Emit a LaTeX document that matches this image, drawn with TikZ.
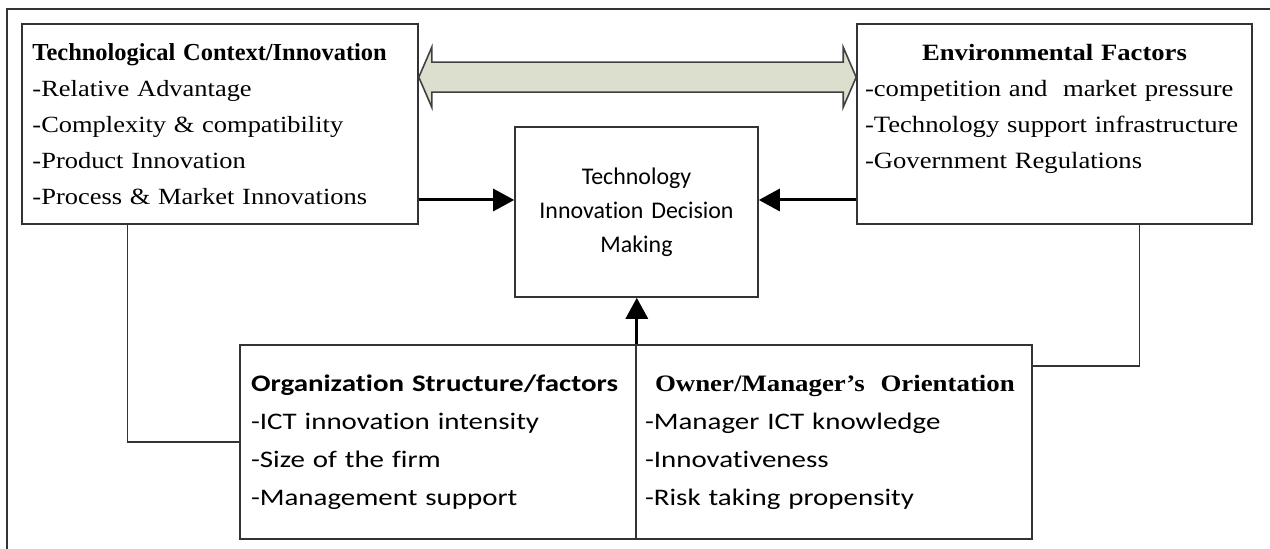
\documentclass[tikz,border=0pt]{standalone}
\usepackage{fontspec}
\setmainfont{Liberation Serif}
\newfontfamily\timesf{Liberation Serif}
\newfontfamily\timesw[FakeStretch=1.14]{Liberation Serif}
\newfontfamily\calf[Ligatures=NoCommon]{Carlito}
\newfontfamily\calw[FakeStretch=1.22, Ligatures=NoCommon]{Carlito}
\usepackage{tikz}
\usetikzlibrary{positioning, calc, arrows.meta}

\tikzset{
  factorbox/.style={draw=black!80, line width=0.9pt, fill=white, rectangle, align=left, inner sep=0pt},
  decisionbox/.style={factorbox, align=center},
  flow/.style={line width=1.7pt, -{Triangle[length=0.42cm, width=0.44cm]}},
  link/.style={draw=black!80, line width=0.8pt},
  twoway/.style={draw=black!75, line width=0.9pt, fill={rgb,255:red,221;green,223;blue,206}},
}

\begin{document}
\begin{tikzpicture}
  \useasboundingbox (0,0) rectangle (25.4,10.98);
  % outer frame, only top and left edges show
  \draw[link] (0.14,0) -- (0.14,10.8) -- (25.4,10.8);

  % Draw factor boxes
  \node[factorbox, minimum width=7.92cm, minimum height=4cm, text width=7.5cm,
        font=\timesw\fontsize{13.2}{20.5}\selectfont] (tech) at (4.4,8.5)
    {{\timesf\fontsize{13.9}{20.5}\selectfont\bfseries Technological Context/Innovation}\\
     -Relative Advantage\\ -Complexity \& compatibility\\ -Product Innovation\\ -Process \& Market Innovations};
  \node[factorbox, minimum width=7.9cm, minimum height=4cm, text width=7.58cm,
        font=\timesw\fontsize{13.3}{20.5}\selectfont] (env) at (21.09,8.5)
    {\makebox[\linewidth]{\bfseries Environmental Factors}\\
     -competition and \ market pressure\\ -Technology support infrastructure\\ -Government Regulations\\ \mbox{}};
  \node[decisionbox, minimum width=4.86cm, minimum height=3.4cm, text width=4.5cm,
        font=\calf\fontsize{13.6}{19.4}\selectfont] (cen) at (12.73,6.74)
    {Technology\\ Innovation Decision\\ Making};
  \node[factorbox, minimum width=7.92cm, minimum height=3.88cm, text width=7.48cm,
        font=\calw\fontsize{13.5}{21.6}\selectfont] (org) at (8.76,2.14)
    {{\bfseries Organization Structure/factors}\\
     -ICT innovation intensity\\ -Size of the firm\\ -Management support};
  \node[factorbox, minimum width=7.92cm, minimum height=3.88cm, text width=7.56cm,
        font=\calw\fontsize{13.5}{21.6}\selectfont] (owner) at (16.68,2.14)
    {\hspace*{0.2cm}{\timesw\fontsize{13.4}{21.6}\selectfont\bfseries Owner/Manager’s \ Orientation}\\
     -Manager ICT knowledge\\ -Innovativeness\\ -Risk taking propensity};

  % two-way arrow between context and environment
  \coordinate (la) at ($(tech.north east)+(0,-1.08)$);
  \coordinate (ra) at ($(env.north west)+(0,-1.08)$);
  \draw[twoway] (la) -- ($(la)+(0.26,0.6)$) -- ($(la)+(0.26,0.3)$) -- ($(ra)+(-0.26,0.3)$)
    -- ($(ra)+(-0.26,0.6)$) -- (ra) -- ($(ra)+(-0.26,-0.6)$) -- ($(ra)+(-0.26,-0.3)$)
    -- ($(la)+(0.26,-0.3)$) -- ($(la)+(0.26,-0.6)$) -- cycle;

  % arrows into the decision box
  \coordinate (cin) at ([yshift=0.24cm]cen.west);
  \coordinate (cinr) at ([yshift=0.24cm]cen.east);
  \draw[flow] (cin -| tech.east) -- (cin);
  \draw[flow] (cinr -| env.west) -- (cinr);
  \draw[flow] (org.north east) -- (org.north east |- cen.south);

  % side links down to the bottom boxes
  \coordinate (ldrop) at ($(tech.south west)+(2.12,0)$);
  \coordinate (rdrop) at ($(env.south west)+(5.66,0)$);
  \coordinate (rjoin) at ($(owner.north east)+(0,-0.44)$);
  \draw[link] (ldrop) |- (org.west);
  \draw[link] (rdrop) |- (rjoin);
\end{tikzpicture}
\end{document}
